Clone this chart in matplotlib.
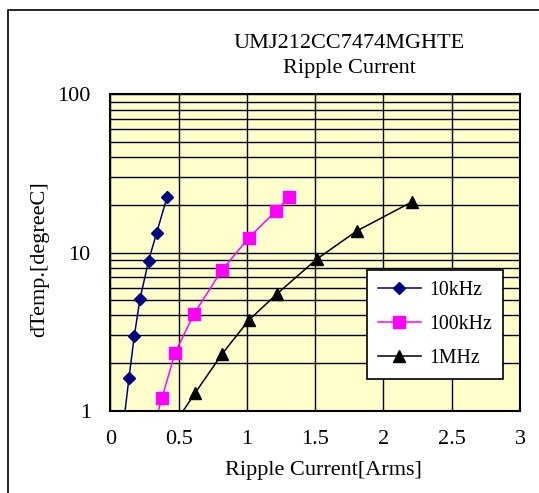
import matplotlib
matplotlib.use("Agg")
import matplotlib.pyplot as plt
from matplotlib.ticker import FixedLocator, NullFormatter, LogLocator
from matplotlib.patches import Rectangle

# values (last point of each series lies below the axis)
i_10k = [0.095, 0.137, 0.176, 0.217, 0.280, 0.339, 0.415]
t_10k = [0.8, 1.62, 2.98, 5.06, 8.84, 13.3, 22.3]
i_100k = [0.32, 0.378, 0.474, 0.613, 0.818, 1.015, 1.213, 1.308]
t_100k = [0.8, 1.20, 2.32, 4.09, 7.75, 12.4, 18.3, 22.4]
i_1m = [0.46, 0.620, 0.818, 1.015, 1.22, 1.513, 1.806, 2.209]
t_1m = [0.8, 1.29, 2.28, 3.74, 5.47, 9.10, 13.7, 20.9]

x_ticks = [0, 0.5, 1, 1.5, 2, 2.5, 3]
x_labels = ["0", "0.5", "1", "1.5", "2", "2.5", "3"]
y_ticks = [1, 10, 100]
y_labels = ["1", "10", "100"]

plt.rcParams['font.family'] = ['Liberation Serif', 'DejaVu Serif']

W, H = 539, 493
fig = plt.figure(figsize=(W / 100, H / 100), dpi=100)
ax = fig.add_axes([110.3 / W, 1 - 410.7 / H, (520 - 110.3) / W, (410.7 - 94.3) / H])
ax.set_facecolor('#FFFFCC')

# outer frame of the chart (runs past the right and bottom edges)
fig.patches.append(Rectangle((8 / W, -0.1), 1.2, 1 - 10 / H + 0.1, transform=fig.transFigure,
                             fill=False, edgecolor='black', linewidth=1.2))

ax.plot(i_10k, t_10k, color='#000080', marker='D', markersize=6.5, linewidth=1.1, label='10kHz')
ax.plot(i_100k, t_100k, color='#FF00FF', marker='s', markersize=9, linewidth=1.1, label='100kHz')
ax.plot(i_1m, t_1m, color='black', marker='^', markersize=8.5, linewidth=1.1, label='1MHz')

ax.set_yscale('log')
ax.set_xlim(0, 3)
ax.set_ylim(1, 100)
ax.xaxis.set_major_locator(FixedLocator(x_ticks))
ax.set_xticklabels(x_labels)
ax.yaxis.set_major_locator(FixedLocator(y_ticks))
ax.set_yticklabels(y_labels)
ax.yaxis.set_minor_locator(LogLocator(base=10, subs=range(2, 10)))
ax.yaxis.set_minor_formatter(NullFormatter())

ax.grid(True, which='major', color='black', linewidth=1.0)
ax.grid(True, which='minor', axis='y', color='black', linewidth=1.0)
ax.set_axisbelow(True)
ax.tick_params(which='both', length=0, labelsize=16)
ax.tick_params(axis='x', pad=14)
ax.tick_params(axis='y', pad=14)
for s in ax.spines.values():
    s.set_linewidth(1.5)

ax.set_xlabel('Ripple Current[Arms]', fontsize=16)
ax.xaxis.set_label_coords((323.5 - 110.3) / (520 - 110.3), -(471 - 410.7) / (410.7 - 94.3))
ax.xaxis.label.set_va('center')
ax.set_ylabel('dTemp.[degreeC]', fontsize=16)
ax.yaxis.set_label_coords(-(110.3 - 40) / (520 - 110.3), 0.48)
ax.yaxis.label.set_va('center')

fig.text(349 / W, 1 - 43 / H, 'UMJ212CC7474MGHTE', ha='center', va='center', fontsize=16)
fig.text(349 / W, 1 - 68 / H, 'Ripple Current', ha='center', va='center', fontsize=16)

leg = ax.legend(loc='upper left', bbox_to_anchor=((366.7 - 110.3) / (520 - 110.3), (410.7 - 270) / (410.7 - 94.3)),
                fontsize=14.3, frameon=True, fancybox=False, edgecolor='black', framealpha=1,
                labelspacing=0.75, handlelength=2.2, handletextpad=0.4, borderpad=0.55, borderaxespad=0)
leg.get_frame().set_linewidth(1.2)

fig.savefig('out.png', dpi=100)
